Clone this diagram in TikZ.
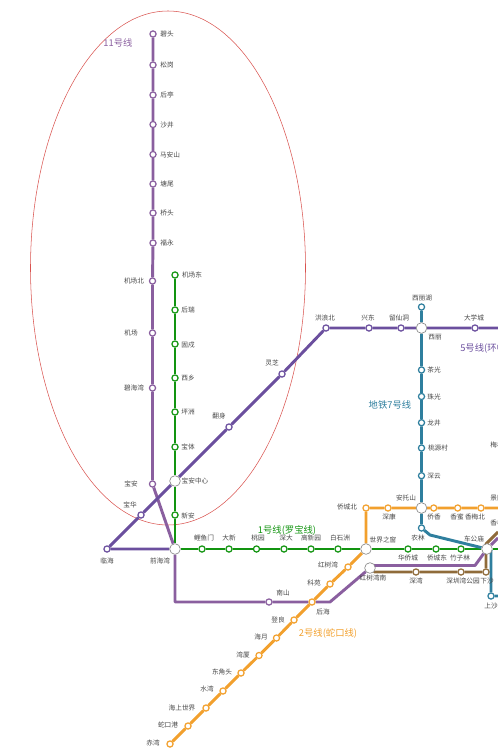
\documentclass[tikz,border=0pt]{standalone}
\usepackage{fontspec}
\setmainfont{Noto Sans CJK SC}
\usetikzlibrary{backgrounds}
\definecolor{lfive}{HTML}{6B4F9E}
\definecolor{leleven}{HTML}{8A5F9F}
\definecolor{lone}{HTML}{129410}
\definecolor{ltwo}{HTML}{F2A02D}
\definecolor{lseven}{HTML}{2F7F9E}
\definecolor{lnine}{HTML}{8F6B3A}
\definecolor{ringred}{HTML}{D9534F}
\newcounter{lbl}
\newcommand{\lab}[3]{\stepcounter{lbl}\node[stationtext] (t\thelbl) at (#1,#2) {#3};}
\newcommand{\linelab}[4]{\stepcounter{lbl}\node[linetext,text=#4] (t\thelbl) at (#1,#2) {#3};}
\tikzset{
  stationtext/.style={font=\fontsize{5}{5}\selectfont,text=black!72,inner sep=0pt},
  linetext/.style={font=\fontsize{7}{7}\selectfont,inner sep=0pt},
  stop/.style={circle,draw=#1,fill=white,line width=0.95pt,minimum size=4.6pt,inner sep=0pt},
  hub/.style={circle,draw=black!45,fill=white,line width=0.5pt,minimum size=8pt,inner sep=0pt},
  route/.style={draw=#1,line width=2.2pt,line join=round},
}
\begin{document}
\begin{tikzpicture}[x=0.75pt,y=-0.75pt]
\useasboundingbox (0,0) rectangle (498,756);
\clip (0,0) rectangle (498,756);
% hubs
\node[hub] (qianhaiwan) at (175,549) {};
\node[hub] (baoanzx) at (175,481) {};
\node[hub] (xili) at (421.5,328) {};
\node[hub] (anto) at (421.5,508) {};
\node[hub] (shijie) at (366,549) {};
\node[hub] (hongnan) at (370,568) {};
\node[hub] (chegong) at (487,549) {};
% line 11
\foreach \n/\x/\y in {bitou/153/34,songgang/153/65,houting/153/95,shajing/153/124.5,maanshan/153/154.5,tangwei/153/184,qiaotou/153/213,fuyong/153/243,jcbei/152.5/281,jichang/152.5/333,bihaiwan/152.5/388,baoan/152.5/484,nanshan/269/602}
  \node[stop=leleven] (\n) at (\x,\y) {};
% line 5
\foreach \n/\x/\y in {linhai/107/549,baohua/141/515,fanshen/229/427,lingzhi/282/374,honglang/326/328,xingdong/369/328,liuxian/401/328,daxue/475/328}
  \node[stop=lfive] (\n) at (\x,\y) {};
% line 1
\foreach \n/\x/\y in {jcdong/175/275,hourui/175/310,gushu/175/344,xixiang/175/378,pingzhou/175/412,baoti/175/447,xinan/175/515,liyu/202/549,daxin/229/549,taoyuan/256.5/549,shenda/284/549,gaoxin/311/549,baishi/338/549,huaqiao/408/549,qcdong/436/549,zhuzi/461/549}
  \node[stop=lone] (\n) at (\x,\y) {};
% line 2
\foreach \n/\x/\y in {chiwan/170/744,shekou/188/726,haishang/206/708,shuiwan/223/691,dongjiao/241/673,wanxia/259/655.5,haiyue/276.5/638,dengliang/294/620,houhai/312/602,keyuan/330/584,hongshu/348/567,qcbei/366/508,shenkang/388/508,qiaoxiang/433.7/508,xiangmi/457.7/508,xiangmb/481/508}
  \node[stop=ltwo] (\n) at (\x,\y) {};
% line 7
\foreach \n/\x/\y in {xilihu/421.5/307,chaguang/421.5/370,zhuguang/421.5/396.5,longjing/421.5/422.7,taoyuanc/421.5/448,shenyun/421.5/475.7,nonglin/421.5/528,shangsha/491/596}
  \node[stop=lseven] (\n) at (\x,\y) {};
% line 9
\foreach \n/\x/\y in {shenwan/416/572,swgy/461/572,xiasha/486/572}
  \node[stop=lnine] (\n) at (\x,\y) {};
% free ends and bends
\coordinate (e5) at (498,328);
\coordinate (e1) at (498,549);
\coordinate (e2) at (498,508);
\coordinate (b11a) at (175,602);
\coordinate (b11b) at (330,602);
\coordinate (b11c) at (475,565.5);
\coordinate (h11) at (374,565.5);
\coordinate (e11) at (498,538);
\coordinate (b7) at (430,535);
\coordinate (b7b) at (491,551);
\coordinate (e7) at (498,596);
\coordinate (h9) at (374,572);
\coordinate (b9) at (486,544);
\coordinate (e9) at (498,532);
\begin{scope}[on background layer]
\draw[ringred,line width=0.4pt] (168,268) ellipse [x radius=137.5,y radius=257];
\draw[route=lone] (jcdong) -- (hourui) -- (gushu) -- (xixiang) -- (pingzhou) -- (baoti) -- (baoanzx) -- (xinan) -- (qianhaiwan) -- (liyu) -- (daxin) -- (taoyuan) -- (shenda) -- (gaoxin) -- (baishi) -- (shijie) -- (huaqiao) -- (qcdong) -- (zhuzi) -- (chegong) -- (e1);
\draw[route=ltwo] (chiwan) -- (shekou) -- (haishang) -- (shuiwan) -- (dongjiao) -- (wanxia) -- (haiyue) -- (dengliang) -- (houhai) -- (keyuan) -- (hongshu) -- (shijie) -- (qcbei) -- (shenkang) -- (anto) -- (qiaoxiang) -- (xiangmi) -- (xiangmb) -- (e2);
\draw[route=lseven] (xilihu) -- (xili) -- (chaguang) -- (zhuguang) -- (longjing) -- (taoyuanc) -- (shenyun) -- (anto) -- (nonglin) -- (b7) -- (chegong);
\draw[route=lseven] (chegong) -- (b7b) -- (shangsha) -- (e7);
\draw[route=lnine] (hongnan) -- (h9) -- (shenwan) -- (swgy) -- (xiasha) -- (b9) -- (e9);
\draw[route=leleven] (bitou) -- (songgang) -- (houting) -- (shajing) -- (maanshan) -- (tangwei) -- (qiaotou) -- (fuyong) -- (jcbei) -- (jichang) -- (bihaiwan) -- (baoan) -- (qianhaiwan) -- (b11a) -- (nanshan) -- (houhai) -- (b11b) -- (hongnan) -- (h11) -- (b11c) -- (chegong) -- (e11);
\draw[route=lfive] (qianhaiwan) -- (linhai) -- (baohua) -- (baoanzx) -- (fanshen) -- (lingzhi) -- (honglang) -- (xingdong) -- (liuxian) -- (xili) -- (daxue) -- (e5);
\end{scope}
% station labels
\lab{167}{34}{碧头}\lab{167}{65}{松岗}\lab{167}{95}{后亭}\lab{167}{125}{沙井}\lab{170}{155}{马安山}\lab{167}{184}{塘尾}\lab{167}{213}{桥头}\lab{167}{243}{福永}
\lab{134}{281}{机场北}\lab{131}{333}{机场}\lab{134}{388}{碧海湾}\lab{131}{484}{宝安}\lab{130}{505}{宝华}\lab{107}{561}{临海}\lab{160}{561}{前海湾}
\lab{192}{275}{机场东}\lab{188}{310}{后瑞}\lab{188}{345}{固戍}\lab{188}{378}{西乡}\lab{188}{412}{坪洲}\lab{188}{447}{宝体}\lab{195}{481}{宝安中心}\lab{188}{516}{新安}
\lab{204}{538}{鲤鱼门}\lab{229}{538}{大新}\lab{258}{538}{桃园}\lab{286}{538}{深大}\lab{311}{538}{高新园}\lab{340}{538}{白石洲}
\lab{219}{416}{翻身}\lab{272}{363}{灵芝}\lab{325}{318}{洪浪北}\lab{368}{318}{兴东}\lab{399}{318}{留仙洞}\lab{422}{298}{西丽湖}\lab{435}{337}{西丽}\lab{474}{318}{大学城}
\lab{434}{370}{茶光}\lab{434}{396.5}{珠光}\lab{434}{423}{龙井}\lab{438}{448}{桃源村}\lab{434}{476}{深云}\lab{406}{498}{安托山}
\lab{347}{507}{侨城北}\lab{389}{517}{深康}\lab{434}{517}{侨香}\lab{457}{517}{香蜜}\lab{475}{517}{香梅北}\lab{418}{538}{农林}\lab{474}{539}{车公庙}\lab{383}{540}{世界之窗}
\lab{408}{558}{华侨城}\lab{437}{558}{侨城东}\lab{460}{558}{竹子林}\lab{373}{578}{红树湾南}\lab{416}{581}{深湾}\lab{463}{581}{深圳湾公园}\lab{487}{581}{下沙}\lab{491}{606}{上沙}
\lab{283}{593}{南山}\lab{323}{612}{后海}\lab{314}{583}{科苑}\lab{328}{565}{红树湾}\lab{278}{620}{登良}
\lab{261}{637}{海月}\lab{243}{655}{湾厦}\lab{222}{672}{东角头}\lab{207}{689}{水湾}\lab{182}{708}{海上世界}\lab{168}{725}{蛇口港}\lab{153}{743}{赤湾}
\lab{497}{445}{梅村}\lab{497}{498}{景田}\lab{497}{523}{香梅}
% line names
\linelab{118}{43}{11号线}{leleven}
\linelab{287}{530}{1号线(罗宝线)}{lone}
\linelab{390}{405}{地铁7号线}{lseven}
\linelab{328}{633}{2号线(蛇口线)}{ltwo}
\stepcounter{lbl}\node[linetext,text=lfive,anchor=west] (t\thelbl) at (460,348) {5号线(环中线)};
\end{tikzpicture}
\end{document}
